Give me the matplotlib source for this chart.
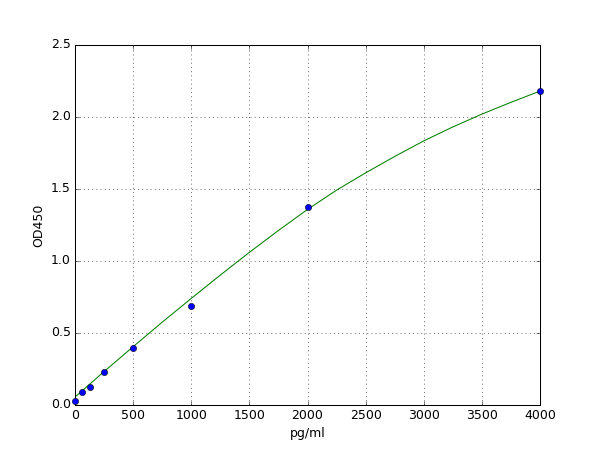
import numpy as np
import matplotlib
matplotlib.use('Agg')
import matplotlib.pyplot as plt

# standard points
conc = [0, 62.5, 125, 250, 500, 1000, 2000, 4000]
od = [0.03, 0.092, 0.123, 0.229, 0.394, 0.69, 1.372, 2.18]

# fitted curve
curve_x = [0, 250, 500, 750, 1000, 1250, 1500, 1750, 2000, 2250, 2500,
           2750, 3000, 3250, 3500, 3750, 4000]
curve_y = [0.055, 0.232, 0.405, 0.575, 0.740, 0.902, 1.060, 1.212, 1.358,
           1.492, 1.612, 1.726, 1.834, 1.931, 2.020, 2.102, 2.180]


def main():
    plt.style.use('classic')
    fig, ax = plt.subplots(figsize=(8, 6), dpi=75)
    fig.patch.set_facecolor('white')

    ax.plot(curve_x, curve_y, '-', color='g')
    ax.plot(conc, od, 'o', color='b', markersize=6, clip_on=False, zorder=3)

    ax.set_xlim(0, 4000)
    ax.set_ylim(0, 2.5)
    ax.grid(True)
    ax.set_xlabel('pg/ml')
    ax.set_ylabel('OD450')

    fig.savefig('out.png', dpi=75, facecolor='white')


if __name__ == '__main__':
    main()
